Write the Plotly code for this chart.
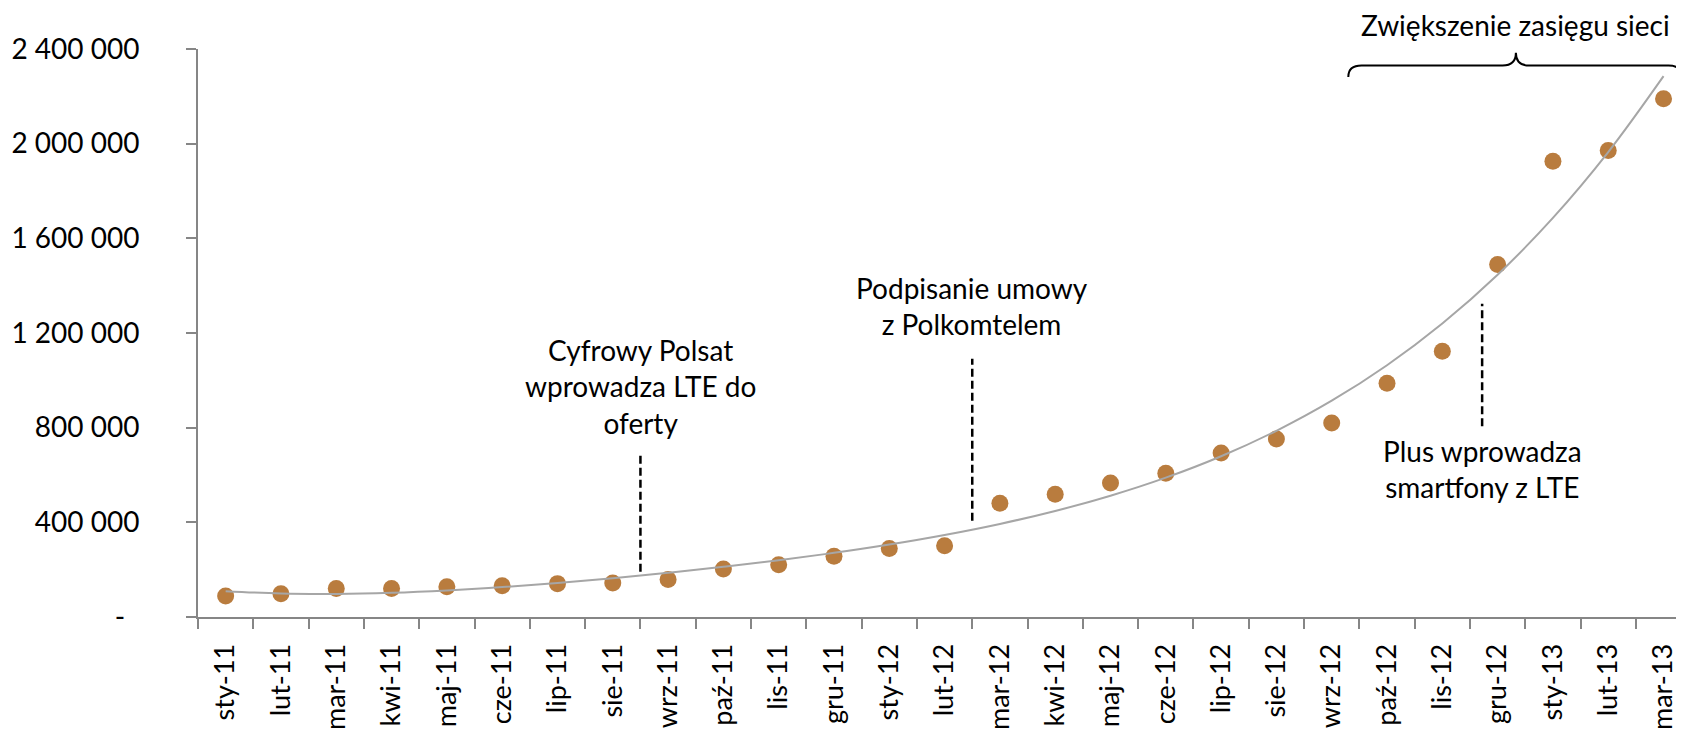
import numpy as np
import plotly.graph_objects as go

months = ["sty-11", "lut-11", "mar-11", "kwi-11", "maj-11", "cze-11", "lip-11", "sie-11",
          "wrz-11", "paź-11", "lis-11", "gru-11", "sty-12", "lut-12", "mar-12", "kwi-12",
          "maj-12", "cze-12", "lip-12", "sie-12", "wrz-12", "paź-12", "lis-12", "gru-12",
          "sty-13", "lut-13", "mar-13"]
users = [89000, 98000, 120000, 120000, 128000, 132000, 141000, 144000,
         158000, 203000, 221000, 257000, 289000, 301000, 481000, 519000,
         566000, 607000, 693000, 752000, 820000, 988000, 1123000, 1489000,
         1926000, 1971000, 2190000]
y_ticks = [0, 400000, 800000, 1200000, 1600000, 2000000, 2400000]
y_labels = ["-\u00a0\u00a0", "400 000", "800 000", "1 200 000", "1 600 000", "2 000 000", "2 400 000"]

FONT = "Lato, 'Open Sans', sans-serif"
DOT = "#B97C3E"
AXIS = "#868686"

idx = np.arange(len(months))
# polynomial trendline fitted to the data (as in the source spreadsheet chart)
coef = np.polyfit(idx + 1, users, 4)
trend = np.polyval(coef, idx + 1)

fig = go.Figure()
fig.add_trace(go.Scatter(x=idx, y=users, mode="markers",
                         marker=dict(color=DOT, size=17), showlegend=False))
fig.add_trace(go.Scatter(x=idx, y=trend, mode="lines",
                         line=dict(color="#A6A6A6", width=2, shape="spline"), showlegend=False))

events = [
    (7.5, 191000, 694000, "Cyfrowy Polsat<br>wprowadza LTE do<br>oferty", 973000),
    (13.5, 407000, 1091000, "Podpisanie umowy<br>z Polkomtelem", 1313000),
    (22.72, 806000, 1324000, "Plus wprowadza<br>smartfony z LTE", 625000),
]
for xv, y0, y1, txt, ty in events:
    fig.add_shape(type="line", xref="x", yref="y", x0=xv, x1=xv, y0=y0, y1=y1,
                  line=dict(color="black", width=2.5, dash="8px,4px"))
    fig.add_annotation(x=xv, y=ty, xref="x", yref="y", text=txt, showarrow=False,
                       font=dict(family=FONT, size=28, color="black"), align="center")

xl, xr, xt = 20.3, 26.33, 23.33
yh, ye, ytip = 2330000, 2282000, 2384000
dx = 0.24
path = (f"M {xl},{ye} Q {xl},{yh} {xl+dx},{yh} L {xt-dx},{yh} Q {xt},{yh} {xt},{ytip} "
        f"Q {xt},{yh} {xt+dx},{yh} L {xr-dx},{yh} Q {xr},{yh} {xr},{ye}")
fig.add_shape(type="path", xref="x", yref="y", path=path, line=dict(color="black", width=2))
fig.add_annotation(x=xt, y=1.042, xref="x", yref="paper", text="Zwiększenie zasięgu sieci",
                   showarrow=False, yanchor="middle", font=dict(family=FONT, size=28, color="black"))

fig.update_layout(
    width=1676, height=723,
    margin=dict(l=190, r=0, t=41, b=114),
    paper_bgcolor="white", plot_bgcolor="white",
    font=dict(family=FONT, size=28, color="black"),
    xaxis=dict(range=[-0.5, 26.37], tickmode="array", tickvals=idx, ticktext=months,
               tickangle=-90, ticks="", showline=True, linecolor=AXIS, linewidth=2,
               showgrid=False, zeroline=False, ticklabelstandoff=14, automargin=False,
               tickfont=dict(family=FONT, size=27, color="black"),
               minor=dict(tickmode="array", tickvals=[i - 0.5 for i in range(28)],
                          ticks="outside", ticklen=10, tickcolor=AXIS, tickwidth=2, showgrid=False)),
    yaxis=dict(range=[0, 2400000], tickmode="array", tickvals=y_ticks, ticktext=y_labels,
               ticks="outside", ticklen=10, tickcolor=AXIS, tickwidth=2, automargin=False,
               showline=True, linecolor=AXIS, linewidth=2, showgrid=False, zeroline=False,
               ticklabelstandoff=41, tickfont=dict(family=FONT, size=28, color="black")),
)

fig.write_html("out.html")
